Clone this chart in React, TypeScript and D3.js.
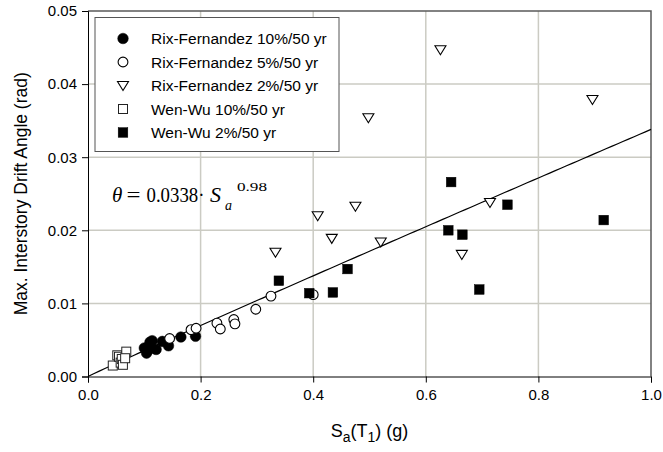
import { useEffect, useRef } from "react";
import * as d3 from "d3";

// Sa(T1) in g, drift angle in rad
const rf10 = [
  [0.1, 0.0039], [0.104, 0.0032], [0.107, 0.0036], [0.11, 0.0047], [0.114, 0.0049],
  [0.121, 0.0037], [0.132, 0.0048], [0.143, 0.0042], [0.165, 0.0054], [0.191, 0.0055],
];
const rf5 = [
  [0.145, 0.0052], [0.183, 0.0064], [0.192, 0.0066], [0.229, 0.0073], [0.235, 0.0065],
  [0.259, 0.0078], [0.261, 0.0072], [0.298, 0.0092], [0.325, 0.011], [0.4, 0.0112],
];
const rf2 = [
  [0.333, 0.017], [0.408, 0.022], [0.433, 0.0189], [0.475, 0.0233], [0.498, 0.0354],
  [0.52, 0.0184], [0.626, 0.0447], [0.664, 0.0167], [0.714, 0.0238], [0.896, 0.0379],
];
const ww10 = [
  [0.044, 0.0015], [0.052, 0.0029], [0.055, 0.0027], [0.058, 0.0019],
  [0.06, 0.0024], [0.062, 0.0016], [0.068, 0.0034], [0.066, 0.0025],
];
const ww2 = [
  [0.339, 0.0131], [0.393, 0.0114], [0.435, 0.0115], [0.461, 0.0147], [0.64, 0.02],
  [0.645, 0.0266], [0.665, 0.0194], [0.695, 0.0119], [0.745, 0.0235], [0.916, 0.0214],
];

const seriesNames = [
  "Rix-Fernandez 10%/50 yr",
  "Rix-Fernandez 5%/50 yr",
  "Rix-Fernandez 2%/50 yr",
  "Wen-Wu 10%/50 yr",
  "Wen-Wu 2%/50 yr",
];
const xTicks = [0, 0.2, 0.4, 0.6, 0.8, 1.0];
const yTicks = [0, 0.01, 0.02, 0.03, 0.04, 0.05];

// fitted curve shown on the chart
const fitA = 0.0338;
const fitB = 0.98;

const App = () => {
  const ref = useRef<SVGSVGElement>(null);

  useEffect(() => {
    const width = 663;
    const height = 452;
    const svg = d3.select(ref.current).attr("width", width).attr("height", height);
    svg.selectAll("*").remove();

    const x = d3.scaleLinear().domain([0, 1]).range([88, 651]);
    const y = d3.scaleLinear().domain([0, 0.05]).range([376.5, 11]);
    const font = "Arial, 'Liberation Sans', sans-serif";
    const serif = "'Liberation Serif', 'Times New Roman', serif";

    // grid
    const grid = svg.append("g").attr("stroke", "#cbcbc3").attr("stroke-width", 1.5);
    xTicks.slice(1, -1).forEach((t) =>
      grid.append("line").attr("x1", x(t)).attr("x2", x(t)).attr("y1", y(0)).attr("y2", y(0.05))
    );
    yTicks.slice(1, -1).forEach((t) =>
      grid.append("line").attr("x1", x(0)).attr("x2", x(1)).attr("y1", y(t)).attr("y2", y(t))
    );

    // top / right frame
    svg
      .append("path")
      .attr("d", `M${x(0)},${y(0.05)}H${x(1)}V${y(0)}`)
      .attr("fill", "none")
      .attr("stroke", "#5a5a5a")
      .attr("stroke-width", 1.5);

    // axes
    svg
      .append("g")
      .attr("transform", `translate(0,${y(0)})`)
      .call(d3.axisBottom(x).tickValues(xTicks).tickSize(6).tickPadding(7).tickFormat(d3.format(".1f")))
      .call((g) => g.selectAll("text").attr("font-size", 15).attr("font-family", font).attr("fill", "#000"));
    svg
      .append("g")
      .attr("transform", `translate(${x(0)},0)`)
      .call(d3.axisLeft(y).tickValues(yTicks).tickSize(6).tickPadding(5).tickFormat(d3.format(".2f")))
      .call((g) => g.selectAll("text").attr("font-size", 15).attr("font-family", font).attr("fill", "#000"));
    svg.selectAll(".domain").attr("stroke", "#000");

    // axis titles
    const xt = svg
      .append("text")
      .attr("x", x(0.5))
      .attr("y", 437)
      .attr("text-anchor", "middle")
      .attr("font-family", font)
      .attr("font-size", 18);
    xt.append("tspan").text("S");
    xt.append("tspan").attr("font-size", 14).attr("dy", 5).text("a");
    xt.append("tspan").attr("dy", -5).text("(T");
    xt.append("tspan").attr("font-size", 14).attr("dy", 5).text("1");
    xt.append("tspan").attr("dy", -5).text(") (g)");

    svg
      .append("text")
      .attr("transform", `translate(27,${y(0.025)}) rotate(-90)`)
      .attr("text-anchor", "middle")
      .attr("font-family", font)
      .attr("font-size", 17.5)
      .text("Max. Interstory Drift Angle (rad)");

    // fit line
    const line = d3
      .line<number>()
      .x((d) => x(d))
      .y((d) => y(fitA * Math.pow(d, fitB)));
    svg
      .append("path")
      .attr("d", line(d3.range(0, 1.0001, 0.01)))
      .attr("fill", "none")
      .attr("stroke", "#000")
      .attr("stroke-width", 1.2);

    // marker painters
    const marker = (g: any, kind: number, cx: number, cy: number) => {
      if (kind === 0 || kind === 1) {
        g.append("circle")
          .attr("cx", cx)
          .attr("cy", cy)
          .attr("r", kind === 0 ? 5.3 : 4.9)
          .attr("fill", kind === 0 ? "#000" : "#fff")
          .attr("stroke", "#000")
          .attr("stroke-width", kind === 0 ? 0.5 : 1.1);
      } else if (kind === 2) {
        g.append("path")
          .attr("d", `M${cx - 5.5},${cy - 4}H${cx + 5.5}L${cx},${cy + 5}Z`)
          .attr("fill", "#fff")
          .attr("stroke", "#000")
          .attr("stroke-width", 1.1);
      } else {
        const s = kind === 3 ? 9 : 9.6;
        g.append("rect")
          .attr("x", cx - s / 2)
          .attr("y", cy - s / 2)
          .attr("width", s)
          .attr("height", s)
          .attr("fill", kind === 3 ? "#fff" : "#000")
          .attr("stroke", kind === 3 ? "#222" : "#000")
          .attr("stroke-width", kind === 3 ? 1 : 0.5);
      }
    };

    const pts = svg.append("g");
    [rf10, rf5, rf2, ww10, ww2].forEach((data, i) =>
      data.forEach((d) => marker(pts, i, x(d[0]), y(d[1])))
    );

    // equation as one text, pieces placed like the typeset formula
    const base = 201.5;
    const eq = svg
      .append("text")
      .attr("font-family", serif)
      .attr("font-size", 21)
      .attr("fill", "#000");
    eq.append("tspan").attr("x", 112).attr("y", base).attr("font-style", "italic").text("θ");
    eq.append("tspan")
      .attr("x", 126.5)
      .attr("y", base)
      .attr("textLength", 14)
      .attr("lengthAdjust", "spacingAndGlyphs")
      .text("=");
    eq.append("tspan")
      .attr("x", 146.5)
      .attr("y", base)
      .attr("textLength", 58)
      .attr("lengthAdjust", "spacingAndGlyphs")
      .text("0.0338·");
    eq.append("tspan")
      .attr("x", 210)
      .attr("y", base)
      .attr("font-size", 22)
      .attr("font-style", "italic")
      .text("S");
    eq.append("tspan").attr("x", 225).attr("y", 210).attr("font-size", 14).attr("font-style", "italic").text("a");
    eq.append("tspan")
      .attr("x", 237)
      .attr("y", 190.5)
      .attr("font-size", 12.5)
      .attr("textLength", 30)
      .attr("lengthAdjust", "spacingAndGlyphs")
      .text("0.98");

    // legend
    const lg = svg.append("g");
    lg.append("rect")
      .attr("x", 95)
      .attr("y", 17.5)
      .attr("width", 244)
      .attr("height", 134)
      .attr("fill", "#fff")
      .attr("stroke", "#555")
      .attr("stroke-width", 1);
    seriesNames.forEach((name, i) => {
      const ly = 38.5 + i * 23.5;
      marker(lg, i, 123, ly);
      lg.append("text")
        .attr("x", 151)
        .attr("y", ly)
        .attr("dy", "0.36em")
        .attr("font-family", font)
        .attr("font-size", 15.5)
        .text(name);
    });
  }, []);

  return <svg ref={ref} style={{ position: "absolute", left: 0, top: 0 }} />;
};

export default App;
